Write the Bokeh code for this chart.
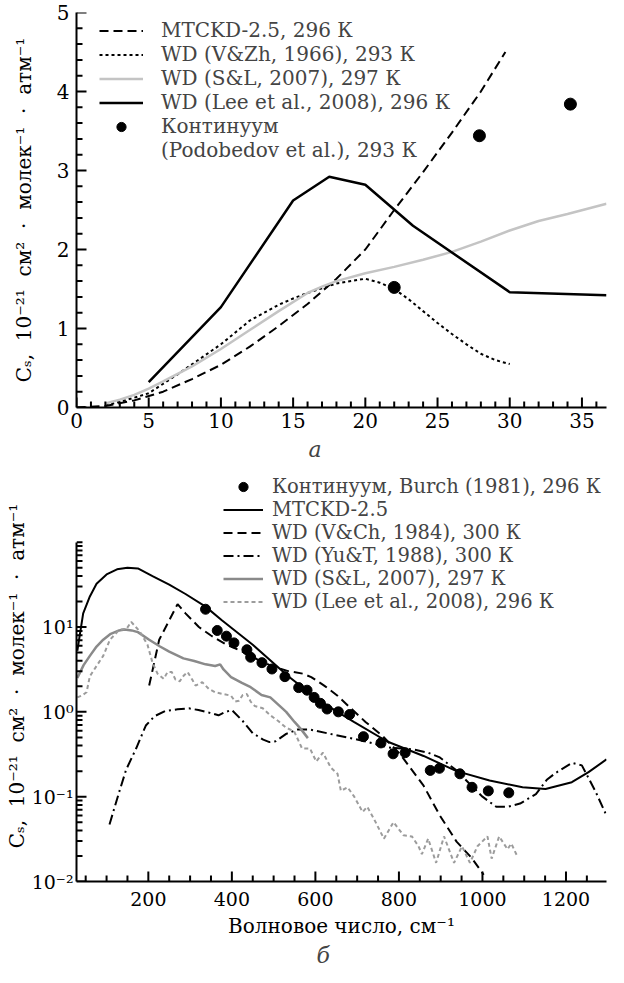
import math
from bokeh.plotting import figure
from bokeh.models import Range1d, FixedTicker, Legend, LegendItem, Title
from bokeh.layouts import column
from bokeh.embed import file_html
from bokeh.resources import INLINE

FONT = "DejaVu Serif"

# ---------------- Panel "а" data ----------------
a_mtckd_x = [0, 2, 4, 6, 8, 10, 12, 14, 16, 18, 20, 22, 24, 26, 28, 29.7]
a_mtckd_y = [0, 0.02, 0.09, 0.2, 0.36, 0.54, 0.77, 1.03, 1.31, 1.63, 2.0, 2.5, 2.98, 3.48, 4.0, 4.5]

a_vzh_x = [2, 3, 5, 7, 10, 12, 14, 15, 16, 18, 20, 21, 22, 23, 24, 25, 26, 27, 28, 29, 30]
a_vzh_y = [0.03, 0.07, 0.18, 0.42, 0.80, 1.1, 1.30, 1.38, 1.45, 1.57, 1.63, 1.58, 1.50, 1.37, 1.22, 1.07, 0.93, 0.80, 0.68, 0.60, 0.55]

a_sl_x = [2, 3, 4, 5, 6, 8, 10, 12, 14, 16, 17, 18, 20, 22, 24, 26, 28, 30, 32, 34, 36.7]
a_sl_y = [0.05, 0.1, 0.16, 0.24, 0.33, 0.52, 0.74, 0.98, 1.22, 1.45, 1.53, 1.6, 1.70, 1.78, 1.87, 1.97, 2.1, 2.24, 2.36, 2.45, 2.58]

a_lee_x = [5, 10, 15, 17.5, 20, 23.3, 30, 36.7]
a_lee_y = [0.32, 1.27, 2.62, 2.92, 2.82, 2.30, 1.46, 1.42]

a_dots_x = [22.0, 27.9, 34.2]
a_dots_y = [1.52, 3.44, 3.84]

a_xticks = [0, 5, 10, 15, 20, 25, 30, 35]
a_xminor = [v for v in range(0, 37) if v % 5 != 0]
a_yticks = [0, 1, 2, 3, 4, 5]
a_yminor = [round(i * 0.2, 1) for i in range(0, 26) if i % 5 != 0]

# ---------------- Panel "б" data ----------------
b_mtckd_x = [30, 44, 60, 76, 100, 125, 150, 175, 210, 250, 289, 337, 376, 450, 535, 613, 692, 772, 859, 938,
             1017, 1096, 1151, 1214, 1254, 1297]
b_mtckd_y = [5.25, 14.5, 22.9, 32.4, 41.7, 47.9, 50.1, 49.0, 39.8, 31.6, 24.5, 17.4, 12.0, 6.17, 2.63, 1.32,
             0.76, 0.447, 0.302, 0.20, 0.155, 0.129, 0.123, 0.148, 0.195, 0.275]

b_burch_x = [337, 365, 387, 405, 436, 445, 472, 496, 527, 560, 580, 597, 612, 628, 655, 682, 715, 757, 786, 815,
             875, 897, 946, 975, 1014, 1063]
b_burch_y = [16.2, 9.1, 7.8, 6.5, 5.4, 4.4, 3.8, 3.2, 2.6, 1.93, 1.80, 1.48, 1.26, 1.08, 1.0, 0.93, 0.51, 0.43,
             0.32, 0.33, 0.204, 0.216, 0.186, 0.129, 0.117, 0.111]

b_vch_x = [202, 215, 226, 250, 270, 289, 321, 350, 384, 416, 432, 460, 495, 535, 570, 590, 621, 653, 685, 720,
           760, 803, 859, 898, 938, 974, 1003]
b_vch_y = [2.04, 4.0, 7.08, 12.0, 18.6, 14.5, 10.0, 7.94, 6.31, 5.37, 4.95, 4.17, 3.47, 3.02, 2.82, 2.57, 2.04,
           1.55, 1.10, 0.76, 0.525, 0.316, 0.135, 0.060, 0.0295, 0.019, 0.012]

b_yut_x = [107, 131, 147, 171, 194, 215, 240, 270, 297, 320, 345, 368, 385, 400, 426, 450, 475, 490, 505, 530,
           558, 586, 643, 710, 776, 835, 870, 898, 940, 970, 1000, 1033, 1060, 1090, 1128, 1154, 1175, 1214,
           1238, 1270, 1297]
b_yut_y = [0.047, 0.117, 0.209, 0.372, 0.69, 0.89, 1.02, 1.07, 1.10, 1.05, 0.98, 0.91, 1.0, 1.05, 0.78, 0.56,
           0.47, 0.44, 0.45, 0.55, 0.62, 0.62, 0.54, 0.46, 0.38, 0.36, 0.33, 0.29, 0.20, 0.14, 0.10, 0.076,
           0.076, 0.083, 0.107, 0.158, 0.19, 0.25, 0.234, 0.117, 0.060]

b_sl_x = [30, 45, 60, 76, 92, 110, 130, 143, 160, 175, 202, 228, 250, 284, 310, 337, 360, 372, 380, 398, 424,
          445, 471, 492, 519, 530, 550, 565, 582]
b_sl_y = [2.51, 3.55, 4.57, 5.89, 7.08, 8.32, 9.12, 9.33, 9.12, 8.71, 7.08, 5.89, 5.13, 4.27, 3.98, 3.63, 3.47,
          3.63, 3.16, 2.57, 2.19, 1.95, 1.58, 1.48, 1.12, 1.0, 0.76, 0.63, 0.49]

b_lee_x = [30, 40, 52, 60, 76, 92, 108, 131, 148, 159, 170, 179, 190, 198, 210, 222, 237, 246, 256, 265, 275,
           285, 294, 305, 313, 322, 329, 345, 360, 380, 398, 408, 417, 426, 436, 445, 455, 474, 492, 511, 530,
           549, 568, 587, 602, 618, 637, 653, 661, 677, 693, 713, 724, 740, 764, 787, 811, 831, 847, 855, 870,
           889, 908, 932, 951, 970, 988, 1012, 1022, 1040, 1060, 1069, 1083]
b_lee_y = [1.48, 1.55, 1.70, 2.63, 3.47, 4.57, 7.08, 9.33, 9.55, 11.5, 10.0, 8.91, 7.24, 6.17, 3.80, 2.82, 2.45,
           2.95, 2.95, 2.40, 2.29, 2.69, 2.95, 2.40, 2.04, 2.14, 2.24, 1.86, 1.70, 1.62, 1.55, 1.32, 1.35, 1.58,
           1.62, 1.32, 1.17, 1.10, 0.91, 0.78, 0.65, 0.59, 0.37, 0.37, 0.26, 0.33, 0.22, 0.186, 0.117, 0.129,
           0.100, 0.066, 0.076, 0.055, 0.032, 0.050, 0.035, 0.034, 0.026, 0.021, 0.032, 0.0166, 0.034, 0.0166,
           0.026, 0.0166, 0.026, 0.034, 0.0186, 0.034, 0.024, 0.028, 0.020]

b_xticks = [200, 400, 600, 800, 1000, 1200]
b_xminor = [v for v in range(50, 1300, 50) if v % 200 != 0]
b_yticks = [0.01, 0.1, 1, 10]
b_ylabels = ["10⁻²", "10⁻¹", "10⁰", "10¹"]
b_yminor = [k * 10.0 ** d for d in range(-2, 2) for k in range(2, 10)] + [100]

NB = "\u00a0"
y_title = f"Cₛ,{NB} 10⁻²¹{NB} см²{NB} ·{NB} молек⁻¹{NB} ·{NB} атм⁻¹"


def style_axis(ax, label_size):
    ax.axis_line_width = 2
    ax.axis_line_color = "black"
    ax.major_tick_line_color = None
    ax.minor_tick_line_color = None
    ax.major_tick_in = 0
    ax.major_tick_out = 0
    ax.minor_tick_in = 0
    ax.minor_tick_out = 0
    ax.major_label_text_font = FONT
    ax.major_label_text_font_size = label_size
    ax.major_label_text_color = "black"
    ax.axis_label_text_font = FONT
    ax.axis_label_text_font_size = "20px"
    ax.axis_label_text_font_style = "normal"
    ax.axis_label_text_color = "black"


def inward_ticks(p, fw, fh, xt, xm, yt, ym, logy=False):
    """Tick marks pointing into the frame: short dash markers sitting on the axes."""
    xa, xb = p.x_range.start, p.x_range.end
    ya, yb = p.y_range.start, p.y_range.end
    dxpx = (xb - xa) / fw
    if logy:
        dec = math.log10(yb / ya) / fh
        def yup(n):
            return ya * 10 ** (n * dec)
    else:
        def yup(n):
            return ya + n * (yb - ya) / fh
    kw = dict(marker="dash", line_color="black", line_width=2, fill_alpha=0)
    p.scatter(x=xt, y=[yup(5)] * len(xt), size=10, angle=math.pi / 2, **kw)
    p.scatter(x=xm, y=[yup(3)] * len(xm), size=6, angle=math.pi / 2, **kw)
    p.scatter(x=[xa + 5 * dxpx] * len(yt), y=yt, size=10, angle=0, **kw)
    p.scatter(x=[xa + 3 * dxpx] * len(ym), y=ym, size=6, angle=0, **kw)


# ================= Panel a =================
FW1, FH1 = 530, 395
p1 = figure(frame_width=FW1, frame_height=FH1, x_range=Range1d(0, 36.7), y_range=Range1d(0, 5),
            output_backend="svg", toolbar_location=None,
            min_border_left=76, min_border_right=2, min_border_top=12, min_border_bottom=61)
p1.outline_line_color = None
p1.xgrid.visible = False
p1.ygrid.visible = False

r_a1 = p1.line(a_mtckd_x, a_mtckd_y, line_color="black", line_width=2, line_dash="9 5")
r_a2 = p1.line(a_vzh_x, a_vzh_y, line_color="black", line_width=2, line_dash="3 3")
r_a3 = p1.line(a_sl_x, a_sl_y, line_color="#c4c4c4", line_width=2.5)
r_a4 = p1.line(a_lee_x, a_lee_y, line_color="black", line_width=2.5)
r_a5 = p1.scatter(a_dots_x, a_dots_y, size=12, fill_color="black", line_color="black")
r_a6 = p1.line([], [], line_alpha=0)
inward_ticks(p1, FW1, FH1, a_xticks, a_xminor, a_yticks, a_yminor)

p1.xaxis.ticker = FixedTicker(ticks=a_xticks)
p1.yaxis.ticker = FixedTicker(ticks=a_yticks)
for ax in p1.xaxis + p1.yaxis:
    style_axis(ax, "20px")
p1.xaxis.major_label_standoff = 5
p1.yaxis.major_label_standoff = 7
p1.yaxis.axis_label = y_title
p1.yaxis.axis_label_standoff = 18

leg1 = Legend(items=[
    LegendItem(label="MTCKD-2.5, 296 К", renderers=[r_a1]),
    LegendItem(label="WD (V&Zh, 1966), 293 К", renderers=[r_a2]),
    LegendItem(label="WD (S&L, 2007), 297 К", renderers=[r_a3]),
    LegendItem(label="WD (Lee et al., 2008), 296 К", renderers=[r_a4]),
    LegendItem(label="Континуум", renderers=[r_a5]),
    LegendItem(label="(Podobedov et al.), 293 К", renderers=[r_a6]),
], location=(23, 245), padding=0, margin=0, spacing=0, glyph_width=44, glyph_height=23,
    label_height=23, label_standoff=18, label_text_font=FONT, label_text_font_size="20px",
    label_text_line_height=1.0,
    border_line_color=None, background_fill_alpha=0)
p1.add_layout(leg1)

t1 = Title(text="а", align="left", offset=232, text_font=FONT, text_font_style="italic",
           text_font_size="22px", standoff=8)
p1.add_layout(t1, "below")

# ================= Panel б =================
FW2, FH2 = 530, 411
p2 = figure(frame_width=FW2, frame_height=FH2, x_range=Range1d(28, 1297), y_range=Range1d(0.01, 700),
            y_axis_type="log", output_backend="svg", toolbar_location=None,
            min_border_left=76, min_border_right=2, min_border_top=2, min_border_bottom=84)
p2.outline_line_color = None
p2.xgrid.visible = False
p2.ygrid.visible = False

r_b2 = p2.line(b_mtckd_x, b_mtckd_y, line_color="black", line_width=2)
r_b3 = p2.line(b_vch_x, b_vch_y, line_color="black", line_width=2, line_dash="9 5")
r_b4 = p2.line(b_yut_x, b_yut_y, line_color="black", line_width=2, line_dash="10 4 2 4")
r_b5 = p2.line(b_sl_x, b_sl_y, line_color="#8a8a8a", line_width=2.5)
r_b6 = p2.line(b_lee_x, b_lee_y, line_color="#9c9c9c", line_width=2, line_dash="4 3")
r_b1 = p2.scatter(b_burch_x, b_burch_y, size=10, fill_color="black", line_color="black")
inward_ticks(p2, FW2, FH2, b_xticks, b_xminor, b_yticks, b_yminor, logy=True)

p2.xaxis.ticker = FixedTicker(ticks=b_xticks)
p2.yaxis.ticker = FixedTicker(ticks=b_yticks)
p2.yaxis.major_label_overrides = dict(zip(b_yticks, b_ylabels))
p2.yaxis.bounds = (0.01, 100)
for ax in p2.xaxis + p2.yaxis:
    style_axis(ax, "19px")
p2.xaxis.major_label_standoff = 10
p2.yaxis.major_label_standoff = 3
p2.yaxis.axis_label = y_title
p2.yaxis.axis_label_standoff = 0
p2.xaxis.axis_label = "Волновое число, см⁻¹"
p2.xaxis.axis_label_standoff = 5

leg2 = Legend(items=[
    LegendItem(label="Континуум, Burch (1981), 296 К", renderers=[r_b1]),
    LegendItem(label="MTCKD-2.5", renderers=[r_b2]),
    LegendItem(label="WD (V&Ch, 1984), 300 К", renderers=[r_b3]),
    LegendItem(label="WD (Yu&T, 1988), 300 К", renderers=[r_b4]),
    LegendItem(label="WD (S&L, 2007), 297 К", renderers=[r_b5]),
    LegendItem(label="WD (Lee et al., 2008), 296 К", renderers=[r_b6]),
], location=(147, 268), padding=0, margin=0, spacing=0, glyph_width=40, glyph_height=23,
    label_height=23, label_standoff=9, label_text_font=FONT, label_text_font_size="19.5px",
    label_text_line_height=1.0,
    border_line_color=None, background_fill_alpha=0)
p2.add_layout(leg2)

t2 = Title(text="б", align="left", offset=240, text_font=FONT, text_font_style="italic",
           text_font_size="22px", standoff=0)
p2.add_layout(t2, "below")

layout = column(p1, p2, spacing=0)
open("out.html", "w").write(file_html(layout, INLINE))
